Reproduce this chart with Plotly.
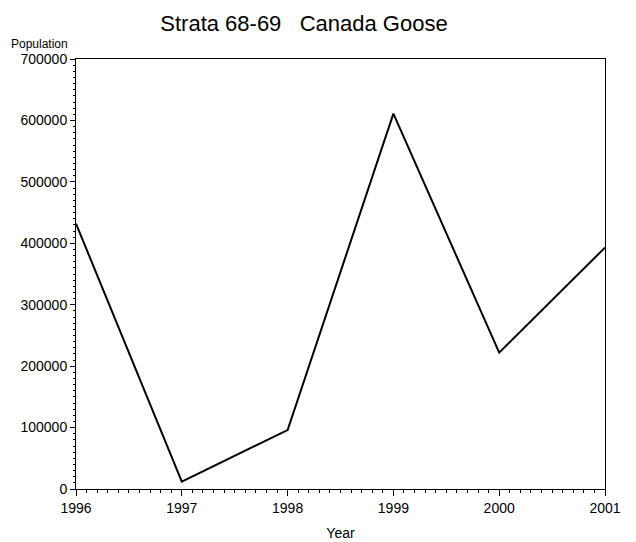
import plotly.graph_objects as go

years = [1996, 1997, 1998, 1999, 2000, 2001]
population = [432000, 12000, 96000, 611000, 222000, 393000]
y_ticks = [0, 100000, 200000, 300000, 400000, 500000, 600000, 700000]
x_ticks = [1996, 1997, 1998, 1999, 2000, 2001]

fig = go.Figure()
fig.add_trace(go.Scatter(x=years, y=population, mode="lines",
                         line=dict(color="black", width=2), showlegend=False))

font_family = "Liberation Sans, Arial, sans-serif"
fig.update_layout(
    width=636, height=542,
    margin=dict(l=76, r=31, t=59, b=53, autoexpand=False),
    paper_bgcolor="white", plot_bgcolor="white",
    font=dict(family=font_family, color="black", size=14),
    title=dict(text="Strata 68-69   Canada Goose", x=304/636, xanchor="center",
               y=1 - 23/542, yanchor="middle", font=dict(size=22, family=font_family)),
)
fig.update_xaxes(
    range=[1996, 2001], tickvals=x_ticks, ticktext=[str(v) for v in x_ticks],
    showline=True, linecolor="black", linewidth=1, mirror=True,
    ticks="outside", ticklen=6, tickcolor="black", showgrid=False, zeroline=False,
    minor=dict(dtick=0.1, ticks="outside", ticklen=3, tickcolor="black", showgrid=False),
    title=dict(text="Year", font=dict(size=14), standoff=13),
    automargin=False,
)
fig.update_yaxes(
    range=[0, 700000], tickvals=y_ticks, ticktext=[str(v) for v in y_ticks],
    showline=True, linecolor="black", linewidth=1, mirror=True,
    ticks="outside", ticklen=5, tickcolor="black", showgrid=False, zeroline=False,
    minor=dict(dtick=10000, ticks="outside", ticklen=2, tickcolor="black", showgrid=False),
    automargin=False,
)
fig.add_annotation(text="Population", xref="paper", yref="paper", x=-6/529, y=1,
                   xanchor="right", yanchor="bottom", yshift=6, showarrow=False,
                   font=dict(size=12, family=font_family))
fig.write_html("out.html", config={"displayModeBar": False},
               post_script="document.body.style.margin='0';")
